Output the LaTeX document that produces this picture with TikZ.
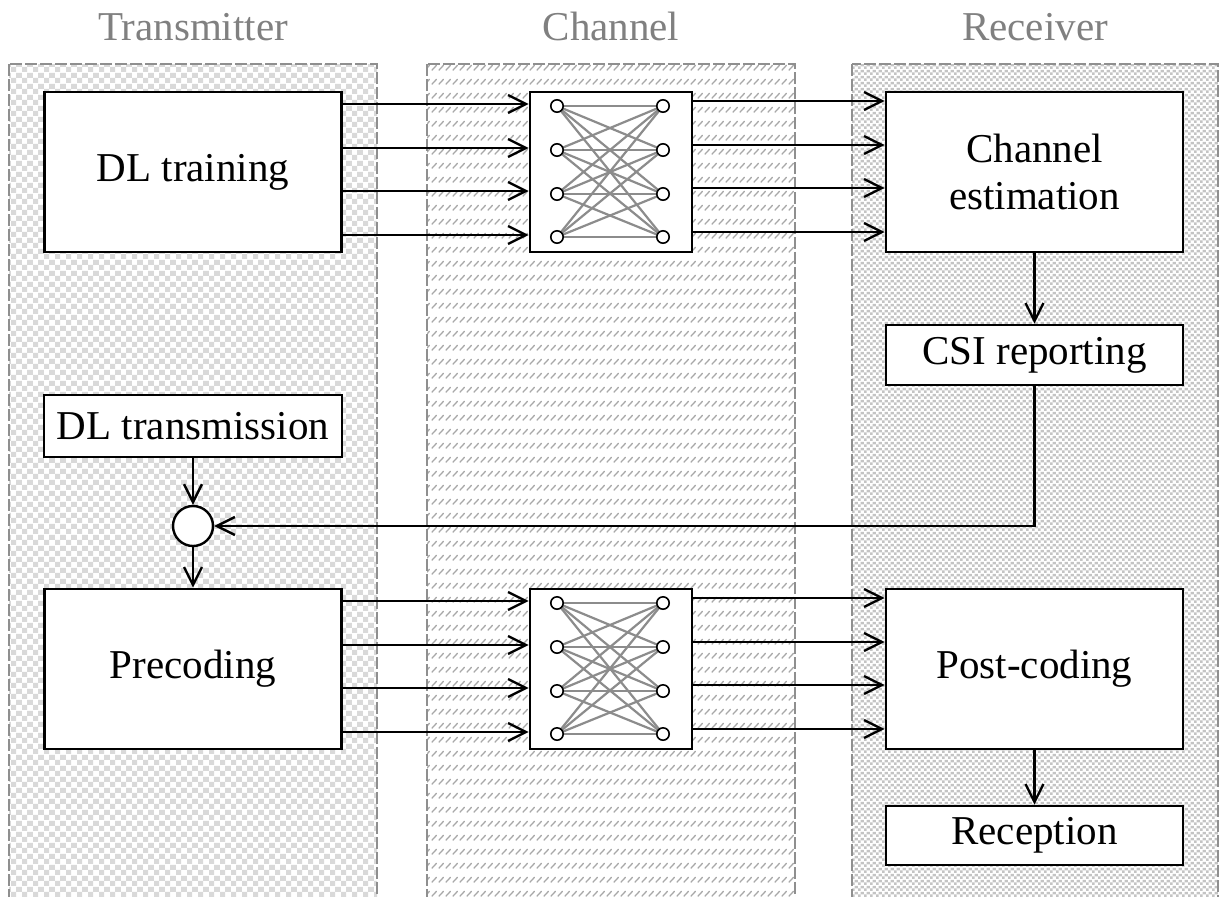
\documentclass[tikz,border=0pt]{standalone}
\usepackage{fontspec}
\setmainfont{Liberation Serif}
\usetikzlibrary{arrows.meta,patterns.meta}

\definecolor{panelline}{HTML}{8F8F8F}
\definecolor{titlegray}{HTML}{808080}
\definecolor{txsq}{HTML}{D9D9D9}
\definecolor{rxsq}{HTML}{C4C4C4}
\definecolor{chdash}{HTML}{A8A8A8}
\definecolor{meshgray}{HTML}{8C8C8C}

% coarse checkerboard for the transmitter side
\tikzdeclarepattern{
  name=txcheck, type=colored,
  tile size={(5.5pt,5.5pt)}, bounding box={(0pt,0pt) and (5.5pt,5.5pt)},
  code={\fill[txsq] (0pt,0pt) rectangle (2.75pt,2.75pt);
        \fill[txsq] (2.75pt,2.75pt) rectangle (5.5pt,5.5pt);}
}
% fine checkerboard for the receiver side
\tikzdeclarepattern{
  name=rxcheck, type=colored,
  tile size={(3pt,3pt)}, bounding box={(0pt,0pt) and (3pt,3pt)},
  code={\fill[rxsq] (0pt,0pt) rectangle (1.5pt,1.5pt);
        \fill[rxsq] (1.5pt,1.5pt) rectangle (3pt,3pt);}
}
% rows of short slanted dashes for the channel
\tikzdeclarepattern{
  name=chdashes, type=colored,
  tile size={(3.6pt,7pt)}, bounding box={(0pt,0pt) and (3.6pt,7pt)},
  code={\draw[chdash, line width=0.7pt, line cap=round] (0.6pt,0.5pt) -- (3pt,3pt);}
}

\begin{document}
\begin{tikzpicture}[x=0.5pt,y=-0.5pt,
  txt/.style={font=\fontsize{20.5pt}{23.5pt}\selectfont},
  box/.style={txt, draw, line width=1.3pt, fill=white, inner sep=0pt, align=center},
  mesh/.style={draw, line width=1.3pt, fill=white, inner sep=0pt},
  port/.style={circle, draw, line width=0.8pt, fill=white, inner sep=0pt, minimum size=6.2pt},
  arr/.style={line width=1.2pt, -{Straight Barb[length=9pt,width=9pt]}},
  wire/.style={draw=meshgray, line width=1.1pt},
  panel/.style={draw=panelline, line width=0.9pt, dash pattern=on 6pt off 1.5pt},
  title/.style={txt, text=titlegray, anchor=base, inner sep=0pt}]

\clip (0,0) rectangle (1221,896);
\fill[white] (0,0) rectangle (1221,896);

% side panels
\path[pattern=txcheck] (9,64) rectangle (377,910);
\draw[panel] (9,64) rectangle (377,910);
\path[pattern=chdashes] (427,64) rectangle (795,910);
\draw[panel] (427,64) rectangle (795,910);
\path[pattern=rxcheck] (852,64) rectangle (1218,910);
\draw[panel] (852,64) rectangle (1218,910);

\node[title] (ttx) at (193,40) {Transmitter};
\node[title] (tch) at (611,40) {Channel};
\node[title] (trx) at (1035,40) {Receiver};

% blocks
\node[box, minimum width=148.5pt, minimum height=80pt] (dltrain) at (193,172) {DL training};
\node[mesh, minimum width=81pt, minimum height=80pt] (mtxA) at (611,172) {};
\node[box, minimum width=148.5pt, minimum height=80pt] (chest) at (1034.5,172) {Channel\\estimation};
\node[box, minimum width=148.5pt, minimum height=30pt] (csi) at (1034.5,355) {CSI reporting};
\node[box, minimum width=149pt, minimum height=31pt] (dltx) at (193,426) {DL transmission};
\node[circle, draw, line width=1.2pt, fill=white, minimum size=20pt, inner sep=0pt] (sum) at (193,526) {};
\node[box, minimum width=148.5pt, minimum height=80pt] (precod) at (193,669) {Precoding};
\node[mesh, minimum width=81pt, minimum height=80pt] (mtxB) at (611,669) {};
\node[box, minimum width=148.5pt, minimum height=80pt] (postcod) at (1034.5,669) {Post-coding};
\node[box, minimum width=148.5pt, minimum height=29.5pt] (recep) at (1034.5,835.5) {Reception};

% fully connected antenna meshes
\foreach \m in {mtxA,mtxB}{
  \foreach \i/\dy in {1/-66,2/-22,3/22,4/65}{
    \coordinate (\m-l\i) at ([shift={(-54,\dy)}]\m.center);
    \coordinate (\m-r\i) at ([shift={(52,\dy)}]\m.center);
  }
  \foreach \i in {1,...,4}{
    \foreach \j in {1,...,4}{
      \draw[wire] (\m-l\i) -- (\m-r\j);
    }
  }
  \foreach \i in {1,...,4}{
    \node[port] (\m-pl\i) at (\m-l\i) {};
    \node[port] (\m-pr\i) at (\m-r\i) {};
  }
}

% parallel streams
\foreach \y in {104,148,191,235}{
  \draw[arr] (dltrain.east |- 0,\y) -- (mtxA.west |- 0,\y);
}
\foreach \y in {101,145,188,232}{
  \draw[arr] (mtxA.east |- 0,\y) -- (chest.west |- 0,\y);
}
\foreach \y in {601,645,688,732}{
  \draw[arr] (precod.east |- 0,\y) -- (mtxB.west |- 0,\y);
}
\foreach \y in {598,642,685,729}{
  \draw[arr] (mtxB.east |- 0,\y) -- (postcod.west |- 0,\y);
}

% control flow
\draw[arr] (chest.south) -- (csi.north);
\draw[arr] (csi.south) |- (sum.east);
\draw[arr] (dltx.south) -- (sum.north);
\draw[arr] (sum.south) -- (precod.north);
\draw[arr] (postcod.south) -- (recep.north);
\end{tikzpicture}
\end{document}
